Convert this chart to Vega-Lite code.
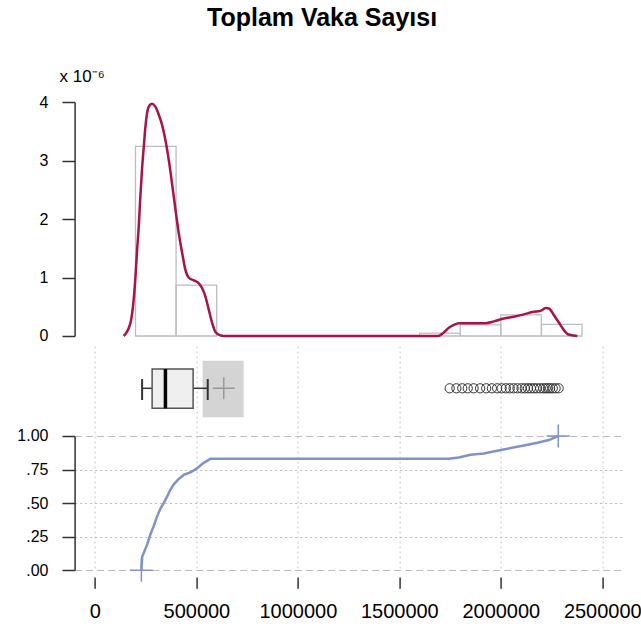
{
  "$schema": "https://vega.github.io/schema/vega-lite/v6.json",
  "padding": {"left": 16.6, "top": 5, "right": 0, "bottom": 0},
  "title": {"text": "Toplam Vaka Sayısı", "fontSize": 25, "fontWeight": "bold", "font": "Liberation Sans", "color": "#000", "anchor": "middle", "offset": 37, "dx": -7},
  "config": {
    "view": {"stroke": null},
    "font": "Liberation Sans",
    "axis": {"labelFont": "Liberation Sans", "titleFont": "Liberation Sans", "labelColor": "#000", "domainColor": "#333", "tickColor": "#333", "domainWidth": 1.5, "tickWidth": 1.5, "labelOverlap": false}
  },
  "datasets": {
    "hist": [
      {"start": 200000, "end": 400000, "density": 3.24},
      {"start": 400000, "end": 600000, "density": 0.87},
      {"start": 1600000, "end": 1800000, "density": 0.05},
      {"start": 1800000, "end": 2000000, "density": 0.19},
      {"start": 2000000, "end": 2200000, "density": 0.36},
      {"start": 2200000, "end": 2400000, "density": 0.20}
    ],
    "dens": [
      {"x": 142000, "d": 0.0}, {"x": 175000, "d": 0.22}, {"x": 191000, "d": 0.62}, {"x": 200000, "d": 1.02},
      {"x": 208000, "d": 1.47}, {"x": 216000, "d": 1.87}, {"x": 224000, "d": 2.39}, {"x": 232000, "d": 2.84},
      {"x": 241000, "d": 3.24}, {"x": 249000, "d": 3.58}, {"x": 257000, "d": 3.81}, {"x": 269000, "d": 3.94},
      {"x": 282000, "d": 3.97}, {"x": 298000, "d": 3.92}, {"x": 315000, "d": 3.78}, {"x": 331000, "d": 3.61},
      {"x": 347000, "d": 3.36}, {"x": 364000, "d": 3.01}, {"x": 380000, "d": 2.61}, {"x": 397000, "d": 2.16},
      {"x": 413000, "d": 1.76}, {"x": 430000, "d": 1.42}, {"x": 446000, "d": 1.13}, {"x": 462000, "d": 1.0},
      {"x": 487000, "d": 0.95}, {"x": 512000, "d": 0.9}, {"x": 528000, "d": 0.82}, {"x": 545000, "d": 0.67},
      {"x": 561000, "d": 0.45}, {"x": 578000, "d": 0.22}, {"x": 594000, "d": 0.07}, {"x": 619000, "d": 0.01},
      {"x": 652000, "d": 0.0}, {"x": 1690000, "d": 0.0}, {"x": 1719000, "d": 0.06}, {"x": 1744000, "d": 0.14},
      {"x": 1768000, "d": 0.19}, {"x": 1793000, "d": 0.22}, {"x": 1867000, "d": 0.22}, {"x": 1925000, "d": 0.22},
      {"x": 1966000, "d": 0.25}, {"x": 2015000, "d": 0.3}, {"x": 2064000, "d": 0.33}, {"x": 2114000, "d": 0.37},
      {"x": 2155000, "d": 0.41}, {"x": 2196000, "d": 0.43}, {"x": 2221000, "d": 0.48}, {"x": 2237000, "d": 0.47},
      {"x": 2261000, "d": 0.36}, {"x": 2286000, "d": 0.23}, {"x": 2311000, "d": 0.1}, {"x": 2330000, "d": 0.03},
      {"x": 2377000, "d": 0.0}
    ],
    "box": [{"min": 232600, "q1": 282000, "median": 347500, "q3": 484000, "hi": 556000, "mean": 635000, "ciLo": 531000, "ciHi": 733000}],
    "outliers": [
      {"x": 1748000}, {"x": 1781000}, {"x": 1810000}, {"x": 1837000}, {"x": 1866000}, {"x": 1898000}, {"x": 1928000},
      {"x": 1956000}, {"x": 1982000}, {"x": 2004000}, {"x": 2025000}, {"x": 2044000}, {"x": 2063000}, {"x": 2082000},
      {"x": 2102000}, {"x": 2118000}, {"x": 2134000}, {"x": 2148000}, {"x": 2163000}, {"x": 2177000}, {"x": 2194000},
      {"x": 2209000}, {"x": 2221000}, {"x": 2232000}, {"x": 2243000}, {"x": 2256000}, {"x": 2270000}, {"x": 2285000}
    ],
    "ecdf": [
      {"x": 229000, "y": 0}, {"x": 233000, "y": 0.1}, {"x": 241000, "y": 0.13}, {"x": 257000, "y": 0.19},
      {"x": 274000, "y": 0.27}, {"x": 290000, "y": 0.33}, {"x": 306000, "y": 0.4}, {"x": 323000, "y": 0.46},
      {"x": 339000, "y": 0.5}, {"x": 356000, "y": 0.55}, {"x": 372000, "y": 0.6}, {"x": 389000, "y": 0.64},
      {"x": 413000, "y": 0.68}, {"x": 438000, "y": 0.71}, {"x": 471000, "y": 0.73}, {"x": 504000, "y": 0.76},
      {"x": 536000, "y": 0.8}, {"x": 569000, "y": 0.83}, {"x": 1744000, "y": 0.83}, {"x": 1793000, "y": 0.84},
      {"x": 1851000, "y": 0.86}, {"x": 1916000, "y": 0.87}, {"x": 1982000, "y": 0.89}, {"x": 2048000, "y": 0.91},
      {"x": 2114000, "y": 0.93}, {"x": 2180000, "y": 0.95}, {"x": 2237000, "y": 0.97}, {"x": 2283000, "y": 1.0}
    ],
    "ends": [{"x": 229000, "y": 0}, {"x": 2283000, "y": 1}]
  },
  "bounds": "flush",
  "spacing": 10,
  "vconcat": [
    {
      "width": 548,
      "height": 234,
      "layer": [
        {
          "data": {"name": "hist"},
          "mark": {"type": "rect", "fill": "transparent", "stroke": "#bdbdbd", "strokeWidth": 1.3},
          "encoding": {
            "x": {"field": "start", "type": "quantitative", "scale": {"domain": [-100000, 2600000], "nice": false, "zero": false}, "axis": null},
            "x2": {"field": "end"},
            "y": {"field": "density", "type": "quantitative", "scale": {"domain": [0, 4], "nice": false},
              "axis": {"values": [0, 1, 2, 3, 4], "tickCount": 10, "format": "d", "title": "x 10⁻⁶", "titleAngle": 0, "titleAlign": "left", "titleBaseline": "alphabetic", "titleX": -15.5, "titleY": -20.5, "titleFontSize": 17, "titleFontWeight": "normal", "titleColor": "#000", "labelFontSize": 16, "tickSize": 12.6, "labelPadding": 14, "grid": false}},
            "y2": {"datum": 0}
          }
        },
        {
          "data": {"name": "dens"},
          "mark": {"type": "line", "color": "#a8134a", "strokeWidth": 2.5, "interpolate": "monotone"},
          "encoding": {
            "x": {"field": "x", "type": "quantitative"},
            "y": {"field": "d", "type": "quantitative"}
          }
        }
      ]
    },
    {
      "bounds": "flush",
      "spacing": 0,
      "vconcat": [
        {
          "width": 548,
          "height": 90,
          "data": {"name": "box"},
          "layer": [
            {
              "mark": {"type": "rect", "fill": "#d4d4d4"},
              "encoding": {
                "x": {"field": "ciLo", "type": "quantitative", "scale": {"domain": [-100000, 2600000], "nice": false, "zero": false},
                  "axis": {"values": [0, 500000, 1000000, 1500000, 2000000, 2500000], "tickCount": 20, "grid": true, "gridDash": [2, 3], "gridColor": "#c8c8c8", "gridWidth": 1, "labels": false, "ticks": false, "domain": false, "title": null, "orient": "bottom"}},
                "x2": {"field": "ciHi"},
                "y": {"datum": 0.208, "type": "quantitative", "scale": {"domain": [0, 1], "nice": false}, "axis": null},
                "y2": {"datum": 0.837}
              }
            },
            {
              "mark": {"type": "rule", "color": "#333", "strokeWidth": 1.5},
              "encoding": {"x": {"field": "min", "type": "quantitative"}, "x2": {"field": "q1"}, "y": {"datum": 0.53, "type": "quantitative"}}
            },
            {
              "mark": {"type": "rule", "color": "#333", "strokeWidth": 1.5},
              "encoding": {"x": {"field": "q3", "type": "quantitative"}, "x2": {"field": "hi"}, "y": {"datum": 0.53, "type": "quantitative"}}
            },
            {
              "mark": {"type": "rule", "color": "#333", "strokeWidth": 2},
              "encoding": {"x": {"field": "min", "type": "quantitative"}, "y": {"datum": 0.4, "type": "quantitative"}, "y2": {"datum": 0.633}}
            },
            {
              "mark": {"type": "rule", "color": "#333", "strokeWidth": 2},
              "encoding": {"x": {"field": "hi", "type": "quantitative"}, "y": {"datum": 0.4, "type": "quantitative"}, "y2": {"datum": 0.633}}
            },
            {
              "mark": {"type": "rect", "fill": "#efefef", "stroke": "#555", "strokeWidth": 1.5},
              "encoding": {"x": {"field": "q1", "type": "quantitative"}, "x2": {"field": "q3"}, "y": {"datum": 0.308, "type": "quantitative"}, "y2": {"datum": 0.744}}
            },
            {
              "mark": {"type": "rule", "color": "#000", "strokeWidth": 3.5},
              "encoding": {"x": {"field": "median", "type": "quantitative"}, "y": {"datum": 0.308, "type": "quantitative"}, "y2": {"datum": 0.744}}
            },
            {
              "mark": {"type": "point", "shape": "M-1,0L1,0M0,-1L0,1", "size": 484, "filled": false, "color": "#9a9a9a", "strokeWidth": 1.5, "opacity": 1},
              "encoding": {"x": {"field": "mean", "type": "quantitative"}, "y": {"datum": 0.53, "type": "quantitative"}}
            },
            {
              "data": {"name": "outliers"},
              "mark": {"type": "point", "shape": "circle", "size": 85, "filled": false, "color": "#333", "strokeWidth": 1, "opacity": 1},
              "encoding": {"x": {"field": "x", "type": "quantitative"}, "y": {"datum": 0.53, "type": "quantitative"}}
            }
          ]
        },
        {
          "width": 548,
          "height": 134.3,
          "layer": [
            {
              "data": {"name": "ecdf"},
              "mark": {"type": "line", "color": "#8093c9", "strokeWidth": 2.5},
              "encoding": {
                "x": {"field": "x", "type": "quantitative", "scale": {"domain": [-100000, 2600000], "nice": false, "zero": false},
                  "axis": {"values": [0, 500000, 1000000, 1500000, 2000000, 2500000], "tickCount": 20, "format": "d", "labelFontSize": 20, "tickSize": 11.3, "offset": 6.7, "domain": false, "labelPadding": 13, "grid": true, "gridDash": [2, 3], "gridColor": "#c8c8c8", "gridWidth": 1, "title": null}},
                "y": {"field": "y", "type": "quantitative", "scale": {"domain": [0, 1], "nice": false},
                  "axis": {"values": [0, 0.25, 0.5, 0.75, 1], "tickCount": 10, "labelExpr": "datum.value == 1 ? '1.00' : '.' + substring(format(datum.value, '.2f'), 2)", "labelFontSize": 16, "tickSize": 12.6, "labelPadding": 14, "grid": true, "gridColor": "#bdbdbd", "gridWidth": 1, "gridDash": {"condition": {"test": "datum.value == 0 || datum.value == 1", "value": [7, 4]}, "value": [2, 3]}, "title": null}}
              }
            },
            {
              "mark": {"type": "rule", "color": "#333", "strokeWidth": 1.5},
              "encoding": {"x": {"datum": 0, "type": "quantitative"}, "x2": {"datum": 2500000}, "y": {"datum": -0.05, "type": "quantitative"}}
            },
            {
              "data": {"name": "ends"},
              "mark": {"type": "point", "shape": "M-1,0L1,0M0,-1L0,1", "size": 529, "filled": false, "color": "#8093c9", "strokeWidth": 1.5, "opacity": 1},
              "encoding": {"x": {"field": "x", "type": "quantitative"}, "y": {"field": "y", "type": "quantitative"}}
            }
          ]
        }
      ]
    }
  ]
}
